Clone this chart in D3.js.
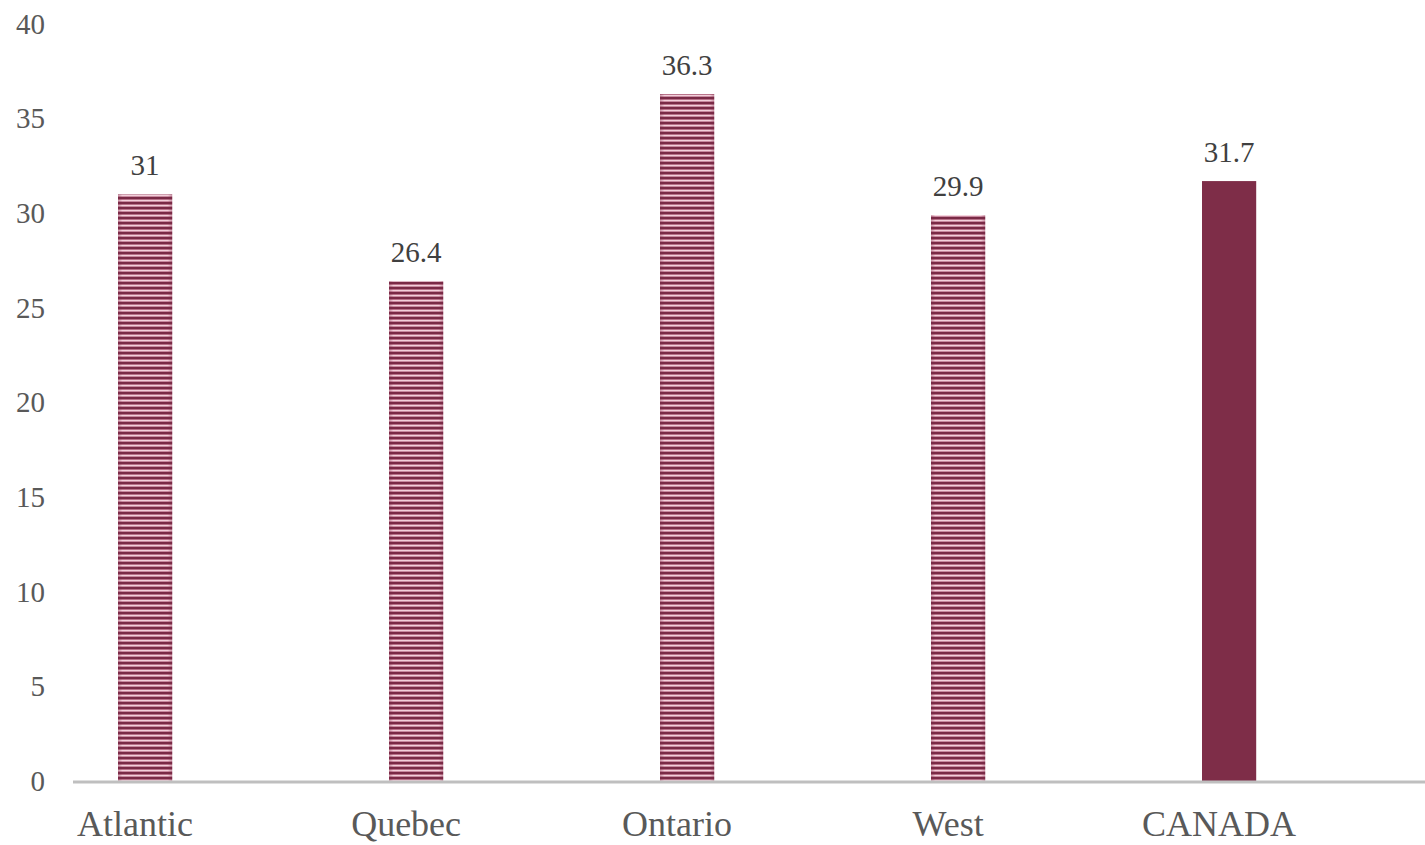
<!DOCTYPE html>
<html>
<head>
<meta charset="utf-8">
<script src="https://cdn.jsdelivr.net/npm/d3@7"></script>
<style>
  html, body { margin: 0; padding: 0; background: #ffffff; }
  svg { display: block; }
</style>
</head>
<body>
<script>
// Regional values
const categories = ["Atlantic", "Quebec", "Ontario", "West", "CANADA"];
const values = [31, 26.4, 36.3, 29.9, 31.7];
const valueLabels = ["31", "26.4", "36.3", "29.9", "31.7"];
const striped = [true, true, true, true, false];
const yTicks = [0, 5, 10, 15, 20, 25, 30, 35, 40];

const W = 1425, H = 845;
const svg = d3.select("body").append("svg").attr("width", W).attr("height", H);

// Horizontal stripe fill for the regional bars
const defs = svg.append("defs");
const pat = defs.append("pattern")
  .attr("id", "stripes")
  .attr("patternUnits", "userSpaceOnUse")
  .attr("width", 10).attr("height", 5)
  .attr("y", 1);
pat.append("rect").attr("width", 10).attr("height", 5).attr("fill", "#f3cfda");
pat.append("rect").attr("y", 0).attr("width", 10).attr("height", 1).attr("fill", "#c98aa0");
pat.append("rect").attr("y", 1).attr("width", 10).attr("height", 2).attr("fill", "#7a2a46");
pat.append("rect").attr("y", 3).attr("width", 10).attr("height", 1).attr("fill", "#b87189");

// soft darkening at the bar edges
const edge = defs.append("linearGradient").attr("id", "edgeShade")
  .attr("x1", "0").attr("x2", "1").attr("y1", "0").attr("y2", "0");
edge.append("stop").attr("offset", "0").attr("stop-color", "#7a2a46").attr("stop-opacity", 0.35);
edge.append("stop").attr("offset", "0.08").attr("stop-color", "#7a2a46").attr("stop-opacity", 0);
edge.append("stop").attr("offset", "0.92").attr("stop-color", "#7a2a46").attr("stop-opacity", 0);
edge.append("stop").attr("offset", "1").attr("stop-color", "#7a2a46").attr("stop-opacity", 0.35);

const x = d3.scaleBand()
  .domain(categories)
  .range([9.6, 1364.6])
  .paddingInner(0.8)
  .paddingOuter(0.4);

const y = d3.scaleLinear().domain([0, 40]).range([781, 24]);

// y-axis tick labels (no axis line)
const yAxis = d3.axisLeft(y).tickValues(yTicks).tickSize(0).tickPadding(0);
const yg = svg.append("g").attr("transform", "translate(45,0)").call(yAxis);
yg.select(".domain").remove();
yg.selectAll("text")
  .attr("font-family", "'Liberation Serif', 'Times New Roman', serif")
  .attr("font-size", 29)
  .attr("fill", "#595959");

const data = categories.map((c, i) => ({ c, v: values[i], label: valueLabels[i], striped: striped[i] }));

// bars
const bars = svg.append("g");
bars.selectAll("rect.bar")
  .data(data)
  .join("rect")
  .attr("class", "bar")
  .attr("x", d => x(d.c))
  .attr("width", x.bandwidth())
  .attr("y", d => y(d.v))
  .attr("height", d => y(0) - y(d.v))
  .attr("fill", d => d.striped ? "url(#stripes)" : "#7e2d48");

bars.selectAll("rect.shade")
  .data(data.filter(d => d.striped))
  .join("rect")
  .attr("class", "shade")
  .attr("x", d => x(d.c))
  .attr("width", x.bandwidth())
  .attr("y", d => y(d.v))
  .attr("height", d => y(0) - y(d.v))
  .attr("fill", "url(#edgeShade)");

// value labels
svg.append("g").selectAll("text")
  .data(data)
  .join("text")
  .attr("x", d => x(d.c) + x.bandwidth() / 2)
  .attr("y", d => y(d.v) - 19)
  .attr("text-anchor", "middle")
  .attr("font-family", "'Liberation Serif', 'Times New Roman', serif")
  .attr("font-size", 29)
  .attr("fill", "#404040")
  .text(d => d.label);

// x-axis line and category labels
const xAxis = d3.axisBottom(x).tickSize(0).tickPadding(0);
const xg = svg.append("g").attr("transform", `translate(0,${y(0)})`).call(xAxis);
xg.select(".domain").remove();
xg.append("line")
  .attr("x1", 73).attr("x2", W)
  .attr("y1", 1).attr("y2", 1)
  .attr("stroke", "#bfbfbf").attr("stroke-width", 3);
xg.selectAll(".tick text")
  .attr("y", 55)
  .attr("dy", 0)
  .attr("dx", -10)
  .attr("font-family", "'Liberation Serif', 'Times New Roman', serif")
  .attr("font-size", 36)
  .attr("fill", "#595959");
</script>
</body>
</html>
